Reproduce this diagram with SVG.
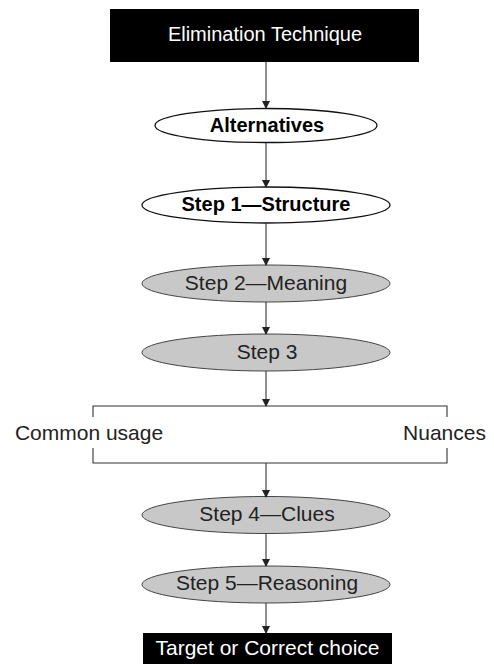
<svg xmlns="http://www.w3.org/2000/svg" width="494" height="664" viewBox="0 0 494 664">
<defs>
<marker id="ah" markerUnits="userSpaceOnUse" markerWidth="8" markerHeight="10" refX="7" refY="4" orient="auto">
<path d="M0,0 L8,4 L0,8 Z" fill="#222"/>
</marker>
<style>
.t{font-family:"Liberation Sans",Arial,sans-serif;font-size:21px;fill:#222;text-anchor:middle}
.b{font-weight:bold;font-size:20px;fill:#000}
.w{fill:#fff}
.ew{fill:#fff;stroke:#111;stroke-width:1.3}
.eg{fill:#c8c8c8;stroke:#444;stroke-width:1}
.c{stroke:#333;stroke-width:1.1;fill:none}
</style>
</defs>
<rect width="494" height="664" fill="#fff"/>
<g id="n0"><rect x="110" y="9" width="309" height="53" fill="#000"/><text class="t w" x="265" y="41" style="font-size:20px">Elimination Technique</text></g>
<g id="n1"><ellipse class="ew" cx="266" cy="125.5" rx="111" ry="17"/><text class="t b" x="267" y="132">Alternatives</text></g>
<g id="n2"><ellipse class="ew" cx="266" cy="205" rx="124" ry="18"/><text class="t b" x="266" y="211">Step 1—Structure</text></g>
<g id="n3"><ellipse class="eg" cx="266" cy="283.5" rx="124" ry="18.5"/><text class="t" x="266" y="290">Step 2—Meaning</text></g>
<g id="n4"><ellipse class="eg" cx="266" cy="352.5" rx="124" ry="18.5"/><text class="t" x="267" y="359">Step 3</text></g>
<g id="n5"><text class="t" x="89" y="440">Common usage</text><text class="t" x="444.5" y="440">Nuances</text></g>
<g id="n6"><ellipse class="eg" cx="266" cy="515" rx="124" ry="18.5"/><text class="t" x="267" y="521">Step 4—Clues</text></g>
<g id="n7"><ellipse class="eg" cx="266" cy="584.5" rx="124" ry="18.5"/><text class="t" x="267" y="590">Step 5—Reasoning</text></g>
<g id="n8"><rect x="143" y="633" width="249" height="31" fill="#000"/><text class="t w" x="267.5" y="655">Target or Correct choice</text></g>
<g id="connectors">
<line class="c" x1="266" y1="62" x2="266" y2="108" marker-end="url(#ah)"/>
<line class="c" x1="266" y1="143" x2="266" y2="187" marker-end="url(#ah)"/>
<line class="c" x1="266" y1="223" x2="266" y2="265" marker-end="url(#ah)"/>
<line class="c" x1="266" y1="302" x2="266" y2="334" marker-end="url(#ah)"/>
<line class="c" x1="266" y1="371" x2="266" y2="406" marker-end="url(#ah)"/>
<path class="c" d="M93,417 V406 H447 V417"/>
<path class="c" d="M93,448 V463 H447 V448"/>
<line class="c" x1="266" y1="463" x2="266" y2="497" marker-end="url(#ah)"/>
<line class="c" x1="266" y1="533" x2="266" y2="566" marker-end="url(#ah)"/>
<line class="c" x1="266" y1="603" x2="266" y2="633" marker-end="url(#ah)"/>
</g>
</svg>
